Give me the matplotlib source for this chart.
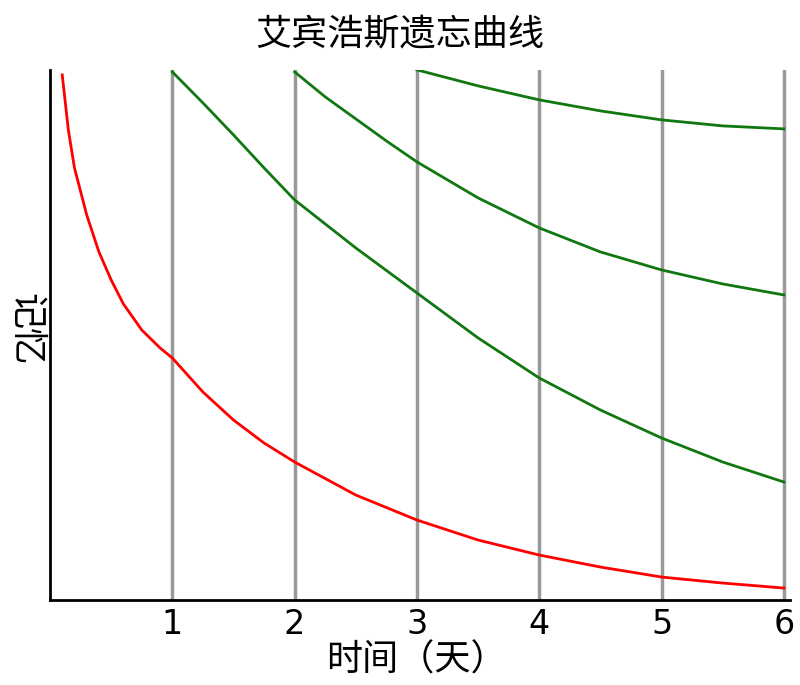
import numpy as np
import matplotlib
matplotlib.use("Agg")
import matplotlib.pyplot as plt

plt.rcParams['font.family'] = ['Noto Sans CJK SC', 'DejaVu Sans']

# values (memory in arbitrary units, 0 = bottom)
red_x = [0.1, 0.15, 0.2, 0.3, 0.4, 0.5, 0.6, 0.75, 0.9, 1, 1.25, 1.5, 1.75, 2,
         2.5, 3, 3.5, 4, 4.5, 5, 5.5, 6]
red_y = [525, 470, 432, 385, 348, 320, 296, 270, 252, 242, 208, 180, 157, 138,
         105, 80, 60, 45, 33, 23, 17, 12]

g1_x = [1, 1.25, 1.5, 1.75, 2, 2.5, 3, 3.5, 4, 4.5, 5, 5.5, 6]
g1_y = [528, 497, 465, 432, 400, 352, 307, 262, 222, 190, 162, 138, 118]
g2_x = [2, 2.25, 2.5, 2.75, 3, 3.5, 4, 4.5, 5, 5.5, 6]
g2_y = [528, 503, 481, 459, 438, 402, 372, 348, 330, 316, 305]
g3_x = [3, 3.5, 4, 4.5, 5, 5.5, 6]
g3_y = [530, 514, 500, 489, 480, 474, 471]

days = [1, 2, 3, 4, 5, 6]

fig = plt.figure(figsize=(8, 6.85), dpi=100)
ax = fig.add_axes([0.0625, 0.124, 0.925, 0.774])

for d in days:
    ax.plot([d, d], [0, 530], color='#999999', lw=2.5, zorder=1)

ax.plot(red_x, red_y, color='#ff0000', lw=2, zorder=3)
for xs, ys in [(g1_x, g1_y), (g2_x, g2_y), (g3_x, g3_y)]:
    ax.plot(xs, ys, color='#117711', lw=2, zorder=3)

ax.set_xlim(0, 6.05)
ax.set_ylim(0, 530)
ax.set_xticks(days)
ax.set_xticklabels([str(d) for d in days], fontsize=24, family=['DejaVu Sans'])
ax.tick_params(axis='x', length=0, pad=6)
ax.set_yticks([])
for s in ['top', 'right']:
    ax.spines[s].set_visible(False)
ax.spines['left'].set_linewidth(2)
ax.spines['bottom'].set_linewidth(2)

fig.text(0.5, 0.948, '艾宾浩斯遗忘曲线', ha='center', va='center', fontsize=26)
fig.text(0.52, 0.035, '时间（天）', ha='center', va='center', fontsize=26)
fig.text(0.032, 0.52, '记忆', ha='center', va='center', fontsize=26, rotation=-90)

fig.savefig('out.png')
